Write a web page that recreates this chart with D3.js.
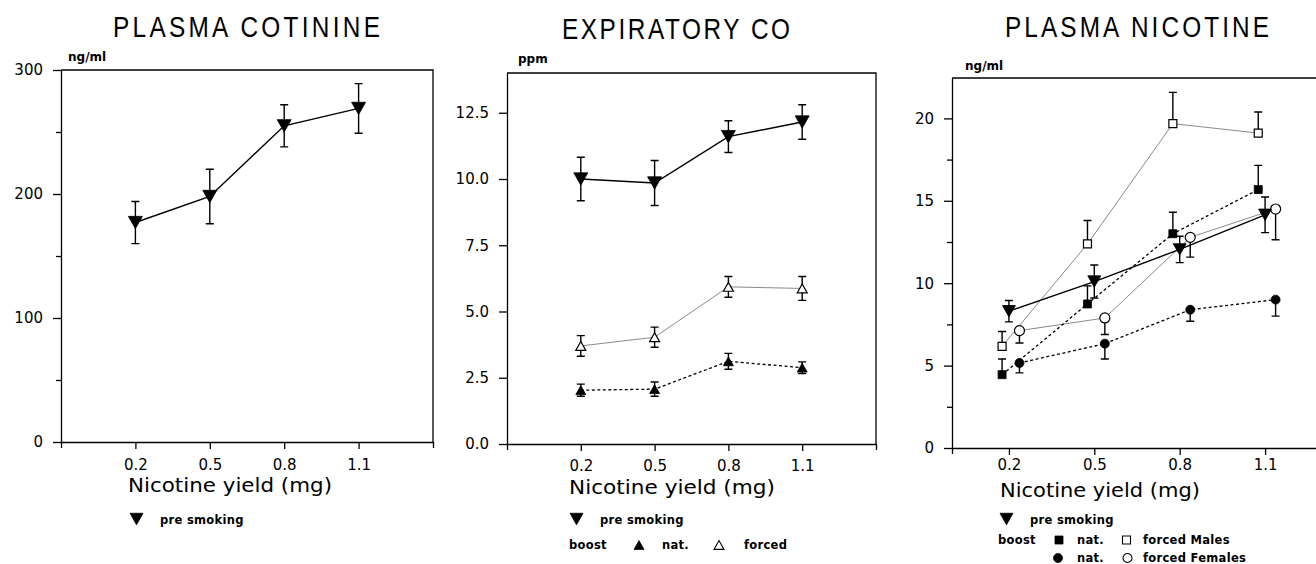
<!DOCTYPE html>
<html>
<head>
<meta charset="utf-8">
<script src="https://cdn.jsdelivr.net/npm/d3@7"></script>
<style>
  body { margin: 0; background: #fff; }
  svg { display: block; }
  text { font-family: "DejaVu Sans", sans-serif; fill: #000; }
</style>
</head>
<body>
<svg id="chart" width="1316" height="564"></svg>
<script>
// nicotine yield of the four test cigarettes (mg)
const yields = [0.2, 0.5, 0.8, 1.1];

// plasma cotinine (ng/ml), mean and sem
const cotPre = [177, 198, 255, 269];
const cotPreErr = [17, 22, 17, 20];

// expiratory CO (ppm)
const coPre = [10.0, 9.85, 11.6, 12.15];
const coPreErr = [0.82, 0.85, 0.6, 0.65];
const coForced = [3.7, 4.03, 5.93, 5.87];
const coForcedErr = [0.39, 0.38, 0.39, 0.45];
const coNat = [2.03, 2.07, 3.12, 2.88];
const coNatErr = [0.23, 0.27, 0.3, 0.22];

// plasma nicotine (ng/ml)
const nicPre = [8.3, 10.1, 12.05, 14.15];
const nicPreErr = [0.65, 1.0, 0.8, 1.08];
const nicNatM = [4.45, 8.74, 13.0, 15.68];
const nicNatMErr = [0.95, 1.1, 1.3, 1.47];
const nicForcedM = [6.17, 12.38, 19.68, 19.11];
const nicForcedMErr = [0.9, 1.42, 1.9, 1.28];
const nicNatF = [5.16, 6.33, 8.39, 9.0];
const nicNatFErr = [0.6, 0.93, 0.7, 1.0];
const nicForcedF = [7.12, 7.89, 12.78, 14.5];
const nicForcedFErr = [0.75, 1.0, 1.2, 1.86];

const svg = d3.select("#chart");
svg.append("rect").attr("width", 1316).attr("height", 564).attr("fill", "#fff");

// marker shapes centred on 0,0
function markerPath(kind, s) {
  const h = s * 0.88, r = s / 2;
  if (kind == "down") return `M${-r},${-h / 2}L${r},${-h / 2}L0,${h / 2}Z`;
  if (kind == "up") return `M${-r},${h / 2}L${r},${h / 2}L0,${-h / 2}Z`;
  if (kind == "square") return `M${-r},${-r}h${s}v${s}h${-s}Z`;
  return `M${r},0A${r},${r} 0 1 1 ${-r},0A${r},${r} 0 1 1 ${r},0Z`;
}

const lineStyles = {
  solid: { stroke: "#000", width: 1.4, dash: null },
  grey: { stroke: "#8a8a8a", width: 1, dash: null },
  dash: { stroke: "#000", width: 1.3, dash: "3,2.5" }
};

const squeeze = 0.84; // titles use narrow letters with wide spacing

function drawPanel(p) {
  const g = svg.append("g");
  const x = d3.scaleLinear().domain(p.xDomain).range([p.left, p.right]);
  const y = d3.scaleLinear().domain(p.yDomain).range([p.bottom, p.top]);

  // frame (top + right)
  g.append("path")
    .attr("d", `M${p.left},${p.top}H${p.right}V${p.bottom}`)
    .attr("fill", "none").attr("stroke", "#000").attr("stroke-width", 1.3);

  let yAxis = g.append("g")
    .attr("transform", `translate(${p.left},0)`)
    .call(d3.axisLeft(y).tickValues(p.yTicks).tickFormat(p.yFormat)
      .tickSize(8).tickSizeOuter(0).tickPadding(10));
  yAxis.attr("font-size", 15).attr("font-family", "DejaVu Sans");

  if (p.yMinor) {
    let minor = g.append("g")
      .attr("transform", `translate(${p.left},0)`)
      .call(d3.axisLeft(y).tickValues(p.yMinor).tickFormat("").tickSize(5));
    minor.select(".domain").remove();
  }

  const fs = 15;
  let xAxis = g.append("g")
    .attr("transform", `translate(0,${p.bottom})`)
    .call(d3.axisBottom(x).tickValues(yields).tickFormat(d3.format(".1f"))
      .tickSize(7).tickSizeOuter(6)
      .tickPadding(p.tickBase - p.bottom - 7 - 0.71 * fs));
  xAxis.attr("font-size", fs).attr("font-family", "DejaVu Sans");
  g.selectAll(".domain, .tick line").attr("stroke-width", 1.3);

  // titles
  svg.append("text")
    .attr("transform", `translate(${p.titleX[0]},${p.titleY}) scale(${squeeze},1)`)
    .attr("textLength", (p.titleX[1] - p.titleX[0]) / squeeze)
    .attr("lengthAdjust", "spacing")
    .style("font-family", "'Liberation Sans', sans-serif")
    .style("font-size", "29px")
    .text(p.title);

  svg.append("text")
    .attr("x", p.unitX).attr("y", p.unitY)
    .style("font-size", "12px").style("font-weight", "bold")
    .text(p.unit);

  svg.append("text")
    .attr("x", p.xTitleX[0]).attr("y", p.xTitleY)
    .attr("textLength", p.xTitleX[1] - p.xTitleX[0])
    .attr("lengthAdjust", "spacingAndGlyphs")
    .style("font-size", "19px")
    .text("Nicotine yield (mg)");

  // series: lines, error bars, then markers
  p.series.forEach(function(s) {
    const pts = s.values.map((v, i) => ({ x: yields[i] + (s.shift || 0), y: v, e: s.err[i] }));
    const st = lineStyles[s.line];
    g.append("path")
      .datum(pts)
      .attr("d", d3.line().x(d => x(d.x)).y(d => y(d.y)))
      .attr("fill", "none").attr("stroke", st.stroke)
      .attr("stroke-width", st.width)
      .attr("stroke-dasharray", st.dash);

    const cap = 4;
    pts.forEach(function(d) {
      const cx = x(d.x);
      const ends = [];
      if (s.dir != "down") ends.push(y(d.y + d.e));
      if (s.dir != "up") ends.push(y(d.y - d.e));
      ends.forEach(function(ey) {
        g.append("path")
          .attr("d", `M${cx},${y(d.y)}V${ey}M${cx - cap},${ey}H${cx + cap}`)
          .attr("fill", "none").attr("stroke", "#000").attr("stroke-width", 1.4);
      });
    });

    g.selectAll(null).data(pts).enter().append("path")
      .attr("transform", d => `translate(${x(d.x)},${y(d.y)})`)
      .attr("d", markerPath(s.marker, s.size))
      .attr("fill", s.filled ? "#000" : "#fff")
      .attr("stroke", "#000").attr("stroke-width", s.filled ? 0.8 : 1.2);
  });

  // legend
  p.legend.forEach(function(l) {
    if (l.marker) {
      svg.append("path")
        .attr("transform", `translate(${l.x},${l.y})`)
        .attr("d", markerPath(l.marker, l.size))
        .attr("fill", l.filled ? "#000" : "#fff")
        .attr("stroke", "#000").attr("stroke-width", l.filled ? 0.8 : 1.1);
    } else {
      svg.append("text")
        .attr("x", l.x).attr("y", l.y)
        .style("font-size", "11.5px").style("font-weight", "bold")
        .style("letter-spacing", "0.3px")
        .text(l.text);
    }
  });
}

drawPanel({
  left: 61, right: 433, top: 70, bottom: 442,
  xDomain: [-0.1, 1.4], yDomain: [0, 300],
  yTicks: [0, 100, 200, 300], yMinor: [50, 150, 250], yFormat: d3.format("d"),
  tickBase: 470,
  title: "PLASMA COTININE", titleX: [113, 380], titleY: 37,
  unit: "ng/ml", unitX: 68, unitY: 61,
  xTitleX: [128, 332], xTitleY: 492,
  series: [
    { values: cotPre, err: cotPreErr, dir: "both", marker: "down", size: 14, filled: true, line: "solid" }
  ],
  legend: [
    { marker: "down", x: 136.5, y: 519, size: 13, filled: true },
    { text: "pre smoking", x: 160, y: 524 }
  ]
});

drawPanel({
  left: 507, right: 876, top: 73, bottom: 444,
  xDomain: [-0.1, 1.4], yDomain: [0, 14],
  yTicks: [0, 2.5, 5, 7.5, 10, 12.5], yFormat: d3.format(".1f"),
  tickBase: 471,
  title: "EXPIRATORY CO", titleX: [562, 790], titleY: 39,
  unit: "ppm", unitX: 518, unitY: 63,
  xTitleX: [569, 775], xTitleY: 494,
  series: [
    { values: coForced, err: coForcedErr, dir: "both", marker: "up", size: 10, filled: false, line: "grey" },
    { values: coNat, err: coNatErr, dir: "both", marker: "up", size: 10, filled: true, line: "dash" },
    { values: coPre, err: coPreErr, dir: "both", marker: "down", size: 14, filled: true, line: "solid" }
  ],
  legend: [
    { marker: "down", x: 576.5, y: 519, size: 13, filled: true },
    { text: "pre smoking", x: 600, y: 524 },
    { text: "boost", x: 569, y: 549 },
    { marker: "up", x: 639, y: 545, size: 10, filled: true },
    { text: "nat.", x: 662, y: 549 },
    { marker: "up", x: 719, y: 545, size: 10, filled: false },
    { text: "forced", x: 744, y: 549 }
  ]
});

drawPanel({
  left: 952, right: 1322, top: 78, bottom: 448,
  xDomain: [0, 1.3], yDomain: [0, 22.45],
  yTicks: [0, 5, 10, 15, 20], yMinor: [2.5, 7.5, 12.5, 17.5], yFormat: d3.format("d"),
  tickBase: 470,
  title: "PLASMA NICOTINE", titleX: [1005, 1269], titleY: 37,
  unit: "ng/ml", unitX: 965, unitY: 70,
  xTitleX: [1000, 1200], xTitleY: 497,
  series: [
    { values: nicForcedM, err: nicForcedMErr, dir: "up", shift: -0.024, marker: "square", size: 8, filled: false, line: "grey" },
    { values: nicForcedF, err: nicForcedFErr, dir: "down", shift: 0.037, marker: "circle", size: 10, filled: false, line: "grey" },
    { values: nicNatM, err: nicNatMErr, dir: "up", shift: -0.024, marker: "square", size: 8, filled: true, line: "dash" },
    { values: nicNatF, err: nicNatFErr, dir: "down", shift: 0.037, marker: "circle", size: 9, filled: true, line: "dash" },
    { values: nicPre, err: nicPreErr, dir: "both", marker: "down", size: 13, filled: true, line: "solid" }
  ],
  legend: [
    { marker: "down", x: 1006.5, y: 519, size: 13, filled: true },
    { text: "pre smoking", x: 1030, y: 524 },
    { text: "boost", x: 998, y: 544 },
    { marker: "square", x: 1059, y: 540, size: 8, filled: true },
    { text: "nat.", x: 1077, y: 544 },
    { marker: "square", x: 1126.5, y: 540, size: 8, filled: false },
    { text: "forced Males", x: 1143, y: 544 },
    { marker: "circle", x: 1058, y: 558, size: 9, filled: true },
    { text: "nat.", x: 1077, y: 562 },
    { marker: "circle", x: 1127.5, y: 558, size: 9, filled: false },
    { text: "forced Females", x: 1143, y: 562 }
  ]
});
</script>
</body>
</html>
